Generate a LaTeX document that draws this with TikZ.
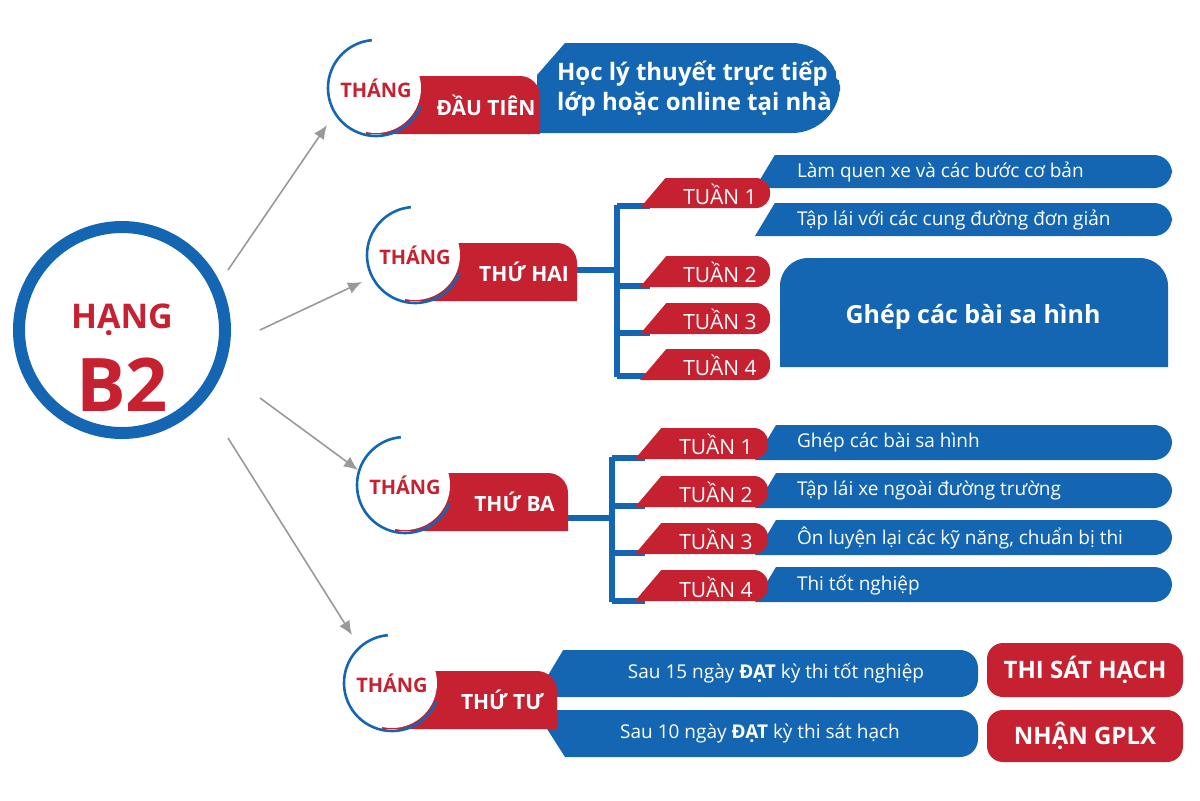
\documentclass[tikz,border=0pt]{standalone}
\usepackage{fontspec}
\setmainfont{Open Sans}
\definecolor{rd}{HTML}{C62130}
\definecolor{bl}{HTML}{1466B2}
\newcommand\BBar[4]{\fill[bl] (#1,#4) -- ({#1+0.6*(#4-#2)},#2) [rounded corners=9pt] -- (#3,#2) -- (#3,#4) [sharp corners] -- cycle;}
\newcommand\RTab[4]{\fill[rd] (#1,#4) -- ({#1+0.85*(#4-#2)},#2) [rounded corners=7pt] -- (#3,#2) -- (#3,#4) [sharp corners] -- cycle;}
\newcommand\Month[5]{% cx cy x2 name label
 \fill[rd] (#1-10,#2-12) [rounded corners=10pt] -- (#3,#2-12) [sharp corners] -- (#3,#2+46) -- (#1-10,#2+46) -- cycle;
 \fill[white] (#1,#2) circle[radius=45];
 \draw[bl,line width=1.3pt] (#1,#2) ++(22:48) arc[start angle=22,end angle=265,radius=48];
 \node[font=\bfseries\fontsize{10}{12}\selectfont,text=rd] (#4a) at (#1,#2) {THÁNG};
 \node[font=\bfseries\fontsize{10.5}{12}\selectfont,text=white] (#4b) at ({(#1+#3)/2+28},#2+17) {#5};}
\tikzset{arr/.style={draw=gray!80,line width=0.8pt,-{Latex[length=7pt,width=6pt]}},
 tt/.style={font=\fontsize{10.5}{12}\selectfont,text=white},
 rt/.style={font=\fontsize{9.5}{12}\selectfont,text=white,anchor=west},
 wl/.style={bl,line width=3pt}}
\usetikzlibrary{arrows.meta}
\begin{document}
\begin{tikzpicture}[x=0.5pt,y=-0.5pt]
\useasboundingbox (0,0) rectangle (1200,800);
% big circle
\draw[bl,line width=6pt] (122,330) circle[radius=103];
\node[font=\bfseries\fontsize{17}{20}\selectfont,text=rd] (hang) at (122,320) {HẠNG};
\node[font=\bfseries\fontsize{37}{40}\selectfont,text=rd] (b2) at (122,385) {B2};
\coordinate (s1) at (228,270); \coordinate (e1) at (327,125);
\coordinate (s2) at (260,330); \coordinate (e2) at (362,282);
\coordinate (s3) at (260,398); \coordinate (e3) at (358,470);
\coordinate (s4) at (228,438); \coordinate (e4) at (352,635);
\draw[arr] (s1)--(e1); \draw[arr] (s2)--(e2); \draw[arr] (s3)--(e3); \draw[arr] (s4)--(e4);
% month 1
\fill[bl] (537,75) -- (565,43) [rounded corners=24pt] -- (840,43) -- (840,133) [sharp corners] -- (537,133) -- cycle;
\Month{376}{88}{540}{m1}{ĐẦU TIÊN}
\node[font=\bfseries\fontsize{12}{15}\selectfont,text=white,align=left,anchor=west] (m1t) at (550,89) {Học lý thuyết trực tiếp tại\\lớp hoặc online tại nhà};
% month 2
\draw[wl] (577,270) -- (617,270);
\draw[wl] (617,205) -- (617,377);
\draw[wl] (617,206) -- (650,206); \draw[wl] (617,286) -- (650,286); \draw[wl] (617,333) -- (650,333); \draw[wl] (617,376) -- (650,376);
\Month{415}{255}{577}{m2}{THỨ HAI}
\BBar{755}{155}{1172}{188}
\BBar{755}{203}{1172}{236}
\fill[bl] (780,367) [rounded corners=14pt] -- (780,258) -- (1168,258) [sharp corners] -- (1168,367) -- cycle;
\node[rt] (a1) at (790,172) {Làm quen xe và các bước cơ bản};
\node[rt] (a2) at (790,220) {Tập lái với các cung đường đơn giản};
\node[font=\bfseries\fontsize{12.5}{15}\selectfont,text=white] (ghep) at (973,317) {Ghép các bài sa hình};
\RTab{640}{178}{770}{208}\node[tt] (w1) at (720,194) {TUẦN 1};
\RTab{640}{256}{770}{287}\node[tt] (w2) at (720,272) {TUẦN 2};
\RTab{640}{303}{770}{334}\node[tt] (w3) at (720,319) {TUẦN 3};
\RTab{640}{349}{770}{380}\node[tt] (w4) at (720,365) {TUẦN 4};
% month 3
\draw[wl] (568,518) -- (612,518);
\draw[wl] (612,457) -- (612,602);
\draw[wl] (612,458) -- (645,458); \draw[wl] (612,506) -- (645,506); \draw[wl] (612,553) -- (645,553); \draw[wl] (612,601) -- (645,601);
\Month{405}{485}{568}{m3}{THỨ BA}
\BBar{755}{425}{1172}{460}
\BBar{755}{473}{1172}{508}
\BBar{755}{520}{1172}{555}
\BBar{755}{567}{1172}{602}
\RTab{635}{428}{768}{459}\node[tt] (v1) at (716,444) {TUẦN 1};
\RTab{635}{476}{768}{507}\node[tt] (v2) at (716,492) {TUẦN 2};
\RTab{635}{523}{768}{554}\node[tt] (v3) at (716,539) {TUẦN 3};
\RTab{635}{570}{768}{601}\node[tt] (v4) at (716,587) {TUẦN 4};
\node[rt] (b1) at (790,442) {Ghép các bài sa hình};
\node[rt] (b2t) at (790,490) {Tập lái xe ngoài đường trường};
\node[rt] (b3) at (790,538) {Ôn luyện lại các kỹ năng, chuẩn bị thi};
\node[rt] (b4) at (790,585) {Thi tốt nghiệp};
% month 4
\BBar{535}{650}{978}{697}
\fill[bl] (535,710) [rounded corners=9pt] -- (978,710) -- (978,757) [sharp corners] -- (565,757) -- cycle;
\Month{392}{683}{557}{m4}{THỨ TƯ}
\node[font=\fontsize{9.5}{12}\selectfont,text=white] (c1) at (776,673) {Sau 15 ngày \textbf{ĐẠT} kỳ thi tốt nghiệp};
\node[font=\fontsize{9.5}{12}\selectfont,text=white] (c2) at (760,733) {Sau 10 ngày \textbf{ĐẠT} kỳ thi sát hạch};
\fill[rd,rounded corners=8pt] (987,643) rectangle (1183,697);
\fill[rd,rounded corners=8pt] (987,710) rectangle (1183,762);
\node[font=\bfseries\fontsize{12}{14}\selectfont,text=white] (sh) at (1085,670) {THI SÁT HẠCH};
\node[font=\bfseries\fontsize{12}{14}\selectfont,text=white] (gp) at (1085,736) {NHẬN GPLX};
\end{tikzpicture}
\end{document}
